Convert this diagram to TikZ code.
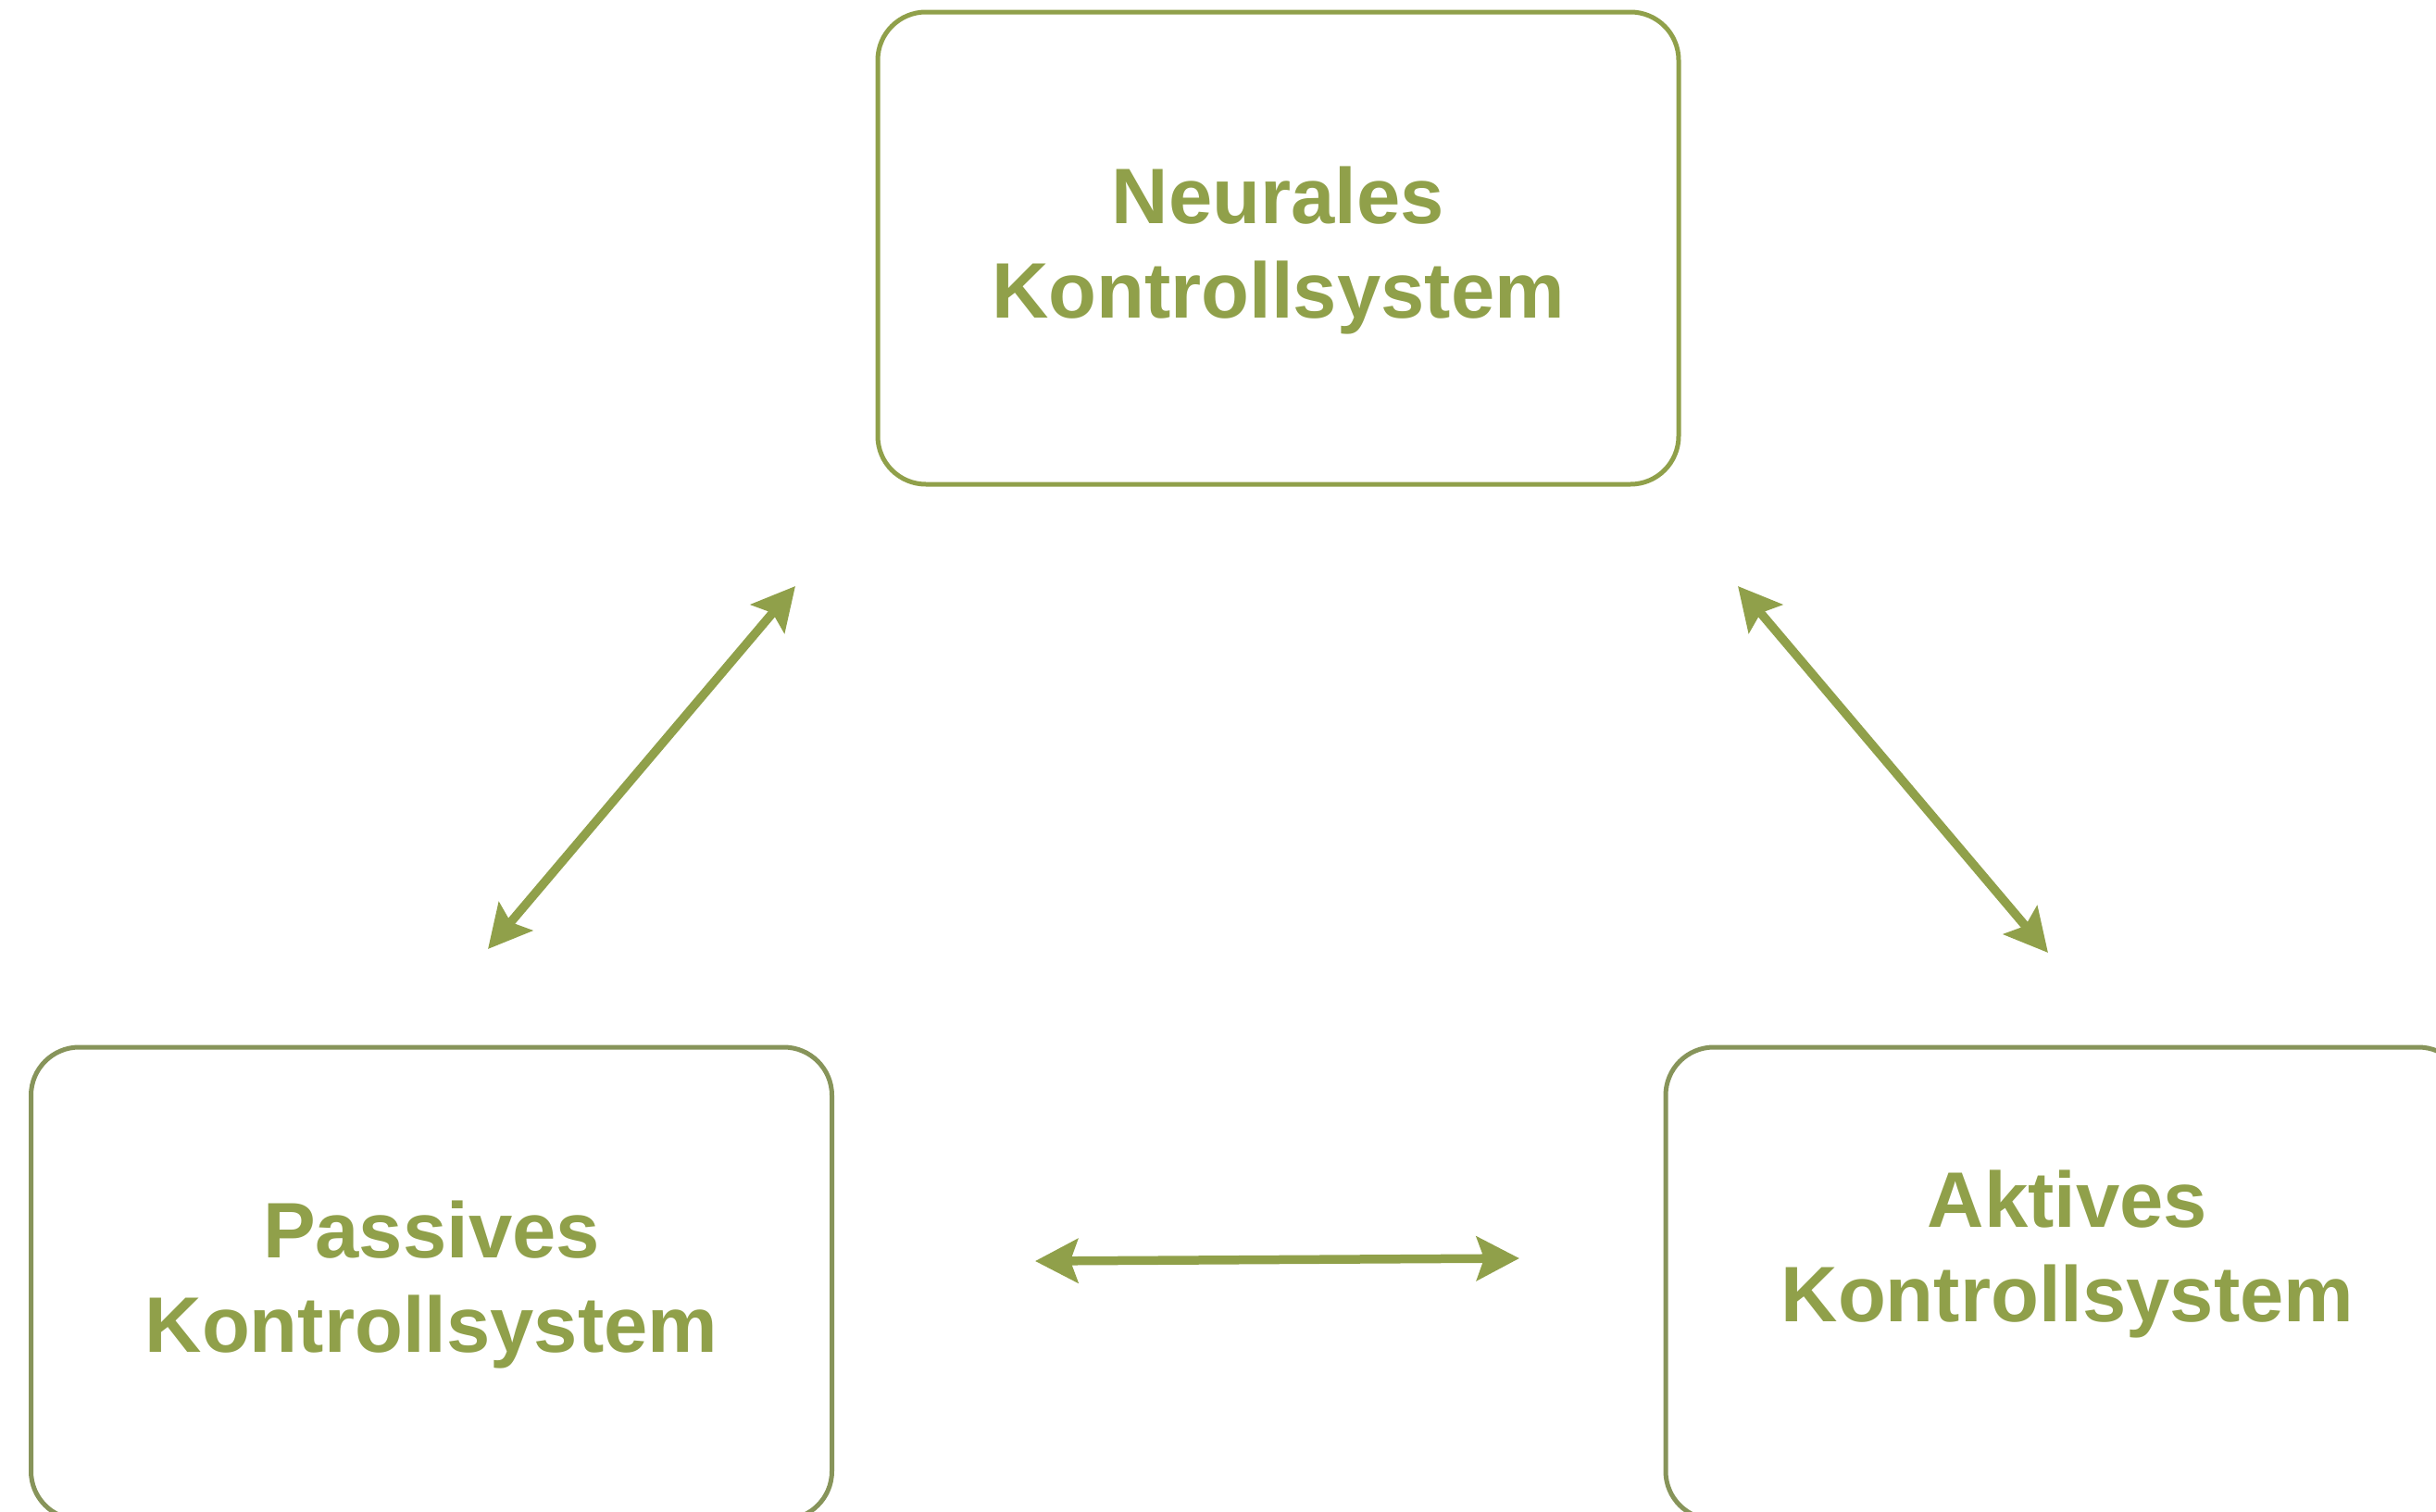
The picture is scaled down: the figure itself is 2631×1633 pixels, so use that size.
\documentclass[tikz,border=0pt]{standalone}
\usepackage{fontspec}
\setmainfont{Liberation Sans}
\usetikzlibrary{arrows.meta}
\definecolor{olivetxt}{RGB}{144,160,74}
\definecolor{olivegray}{RGB}{135,148,90}
\begin{document}
\begin{tikzpicture}[x=0.5pt,y=-0.5pt,
  box/.style={draw, rounded corners=26pt, line width=2.5pt, minimum width=432.5pt, minimum height=255pt, inner sep=0pt},
  lbl/.style={text=olivetxt, font=\fontsize{42.5}{51}\selectfont\bfseries, align=center, anchor=base, inner sep=0pt},
  biarrow/.style={draw=olivetxt, line width=4.75pt, {Stealth[length=23pt,width=23.5pt,inset=4pt]}-{Stealth[length=23pt,width=23.5pt,inset=4pt]}}]
\useasboundingbox (0,0) rectangle (2631,1633);
% boxes
\node[box, draw=olivetxt] (neural) at (1380.5,268) {};
\node[box, draw=olivegray] (passive) at (466,1386) {};
\node[box, draw=olivegray] (active) at (2231.5,1386) {};
% labels (anchor at baseline of last line)
\node[lbl] (neuraltxt) at (1380.5,343) {Neurales\\Kontrollsystem};
\node[lbl] (passivetxt) at (466,1460) {Passives\\Kontrollsystem};
\node[lbl] (activetxt) at (2233,1427) {Aktives\\Kontrollsystem};
% arrow ends
\coordinate (a1) at (527,1025);
\coordinate (a2) at (859,633);
\coordinate (b1) at (1877,633);
\coordinate (b2) at (2212,1029);
\coordinate (c1) at (1118,1362);
\coordinate (c2) at (1641,1359);
\draw[biarrow] (a1) -- (a2);
\draw[biarrow] (b1) -- (b2);
\draw[biarrow] (c1) -- (c2);
\end{tikzpicture}
\end{document}
